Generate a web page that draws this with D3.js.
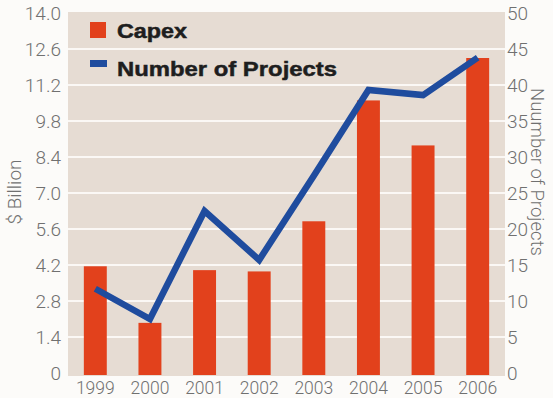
<!DOCTYPE html>
<html><head><meta charset="utf-8">
<script src="https://cdn.jsdelivr.net/npm/d3@7"></script>
<style>html,body{margin:0;padding:0;background:#fcfbf9;}svg{display:block;}</style>
</head><body>
<svg id="c" width="553" height="398"></svg>
<script>
const years = ["1999","2000","2001","2002","2003","2004","2005","2006"];
const capex = [4.15, 1.95, 4.0, 3.95, 5.9, 10.6, 8.85, 12.25];
const projects = [11.7, 7.5, 22.5, 15.7, 27.4, 39.3, 38.6, 43.8];
const leftTicks = [0, 1.4, 2.8, 4.2, 5.6, 7.0, 8.4, 9.8, 11.2, 12.6, 14.0];
const rightTicks = [0, 5, 10, 15, 20, 25, 30, 35, 40, 45, 50];

const svg = d3.select("#c");
const L = 68, R = 505, T = 13, B = 373;
const x = d3.scaleBand().domain(years).range([L, R]).paddingInner(0.58).paddingOuter(0.29);
const y = d3.scaleLinear().domain([0, 14]).range([B, T]);
const y2 = d3.scaleLinear().domain([0, 50]).range([B, T]);
const txt = "#707070";
const font = "Roboto, 'Liberation Sans', Arial, sans-serif";

svg.append("rect").attr("x", L).attr("y", T - 1).attr("width", R - L).attr("height", B - T + 4).attr("fill", "#e6dcd3");

svg.append("g").selectAll("line").data(leftTicks.filter(d => d > 0 && d < 14)).join("line")
  .attr("x1", L).attr("x2", R).attr("y1", d => y(d)).attr("y2", d => y(d))
  .attr("stroke", "#fbf8f5").attr("stroke-width", 2.2);

svg.append("g").selectAll("rect").data(years).join("rect")
  .attr("x", d => x(d)).attr("width", x.bandwidth())
  .attr("y", (d, i) => y(capex[i])).attr("height", (d, i) => y(0) - y(capex[i]) + 2)
  .attr("fill", "#e2411c");

const line = d3.line().x((d, i) => x(years[i]) + x.bandwidth() / 2).y(d => y2(d));
svg.append("path").datum(projects).attr("d", line).attr("fill", "none")
  .attr("stroke", "#1f4c9e").attr("stroke-width", 6.5).attr("stroke-linejoin", "miter").attr("stroke-miterlimit", 6);

// axes
const ax = d3.axisLeft(y).tickValues(leftTicks).tickFormat(d => d === 0 ? "0" : d3.format(".1f")(d)).tickSize(0).tickPadding(0);
const gl = svg.append("g").attr("transform", `translate(61,0)`).call(ax);
gl.select(".domain").remove();
gl.selectAll("text").attr("fill", txt).attr("font-family", font).attr("font-weight", 300).attr("font-size", 19).attr("dy", "0.36em");

const ar = d3.axisRight(y2).tickValues(rightTicks).tickSize(0).tickPadding(0);
const gr = svg.append("g").attr("transform", `translate(507,0)`).call(ar);
gr.select(".domain").remove();
gr.selectAll("text").attr("fill", txt).attr("font-family", font).attr("font-weight", 300).attr("font-size", 19).attr("dy", "0.36em");

const axb = d3.axisBottom(x).tickSize(0).tickPadding(0);
const gb = svg.append("g").attr("transform", `translate(0,381)`).call(axb);
gb.select(".domain").remove();
gb.selectAll("text").attr("fill", txt).attr("font-family", font).attr("font-weight", 300).attr("font-size", 17.5).attr("dy", "0.72em");

svg.append("text").attr("transform", "translate(21,192) rotate(-90)").attr("text-anchor", "middle")
  .attr("fill", txt).attr("font-family", font).attr("font-weight", 300).attr("font-size", 19).text("$ Billion");
svg.append("text").attr("transform", "translate(531,172) rotate(90)").attr("text-anchor", "middle")
  .attr("fill", txt).attr("font-family", font).attr("font-weight", 300).attr("font-size", 18.5).text("Nuumber of Projects");

// legend
const lg = svg.append("g");
lg.append("rect").attr("x", 90).attr("y", 22).attr("width", 16).attr("height", 16).attr("fill", "#e2411c");
lg.append("text").attr("x", 117).attr("y", 37.5).attr("font-family", "'Liberation Sans', Arial, sans-serif").attr("font-weight", "bold")
  .attr("font-size", 20).attr("fill", "#1e1e1e").attr("stroke", "#1e1e1e").attr("stroke-width", 0.5)
  .attr("textLength", 70).attr("lengthAdjust", "spacingAndGlyphs").text("Capex");
lg.append("rect").attr("x", 90).attr("y", 60).attr("width", 17).attr("height", 7).attr("fill", "#1f4c9e");
lg.append("text").attr("x", 117).attr("y", 75.5).attr("font-family", "'Liberation Sans', Arial, sans-serif").attr("font-weight", "bold")
  .attr("font-size", 21).attr("fill", "#1e1e1e").attr("stroke", "#1e1e1e").attr("stroke-width", 0.5)
  .attr("textLength", 220).attr("lengthAdjust", "spacingAndGlyphs").text("Number of Projects");
</script>
</body></html>
